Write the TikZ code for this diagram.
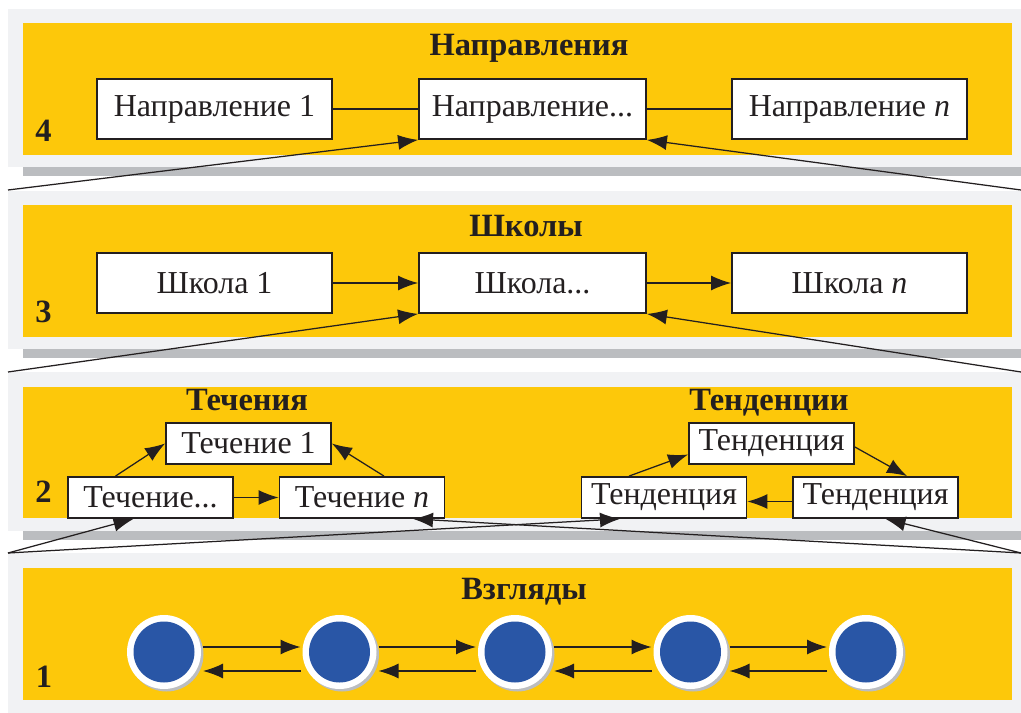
\documentclass[tikz,border=0pt]{standalone}
\usepackage{fontspec}
\setmainfont{Liberation Serif}
\usetikzlibrary{shapes,arrows.meta,shadows}

\newdimen\pxu \pxu=0.36pt
\definecolor{panelyellow}{RGB}{253,200,10}
\definecolor{panelgray}{RGB}{241,242,244}
\definecolor{bargray}{RGB}{187,189,192}
\definecolor{viewblue}{RGB}{41,86,166}
\definecolor{ink}{RGB}{35,31,32}

\tikzset{
  box/.style={rectangle, draw=ink, line width=0.65pt, fill=white, text=ink, inner sep=0pt,
    minimum width=235\pxu, minimum height=60\pxu, font=\fontsize{11.5}{13}\selectfont},
  smallbox/.style={box, minimum width=165\pxu, minimum height=41\pxu},
  title/.style={anchor=base, text=ink, inner sep=0pt, font=\fontsize{11.7}{13}\selectfont\bfseries},
  view/.style={circle, fill=white, minimum size=74\pxu, inner sep=0pt, outer sep=2\pxu,
    drop shadow={shadow xshift=2.5\pxu, shadow yshift=-2.5\pxu, fill=bargray, opacity=1},
    path picture={\fill[viewblue] (path picture bounding box.center) circle (30.5\pxu);}}
}

\begin{document}
\begin{tikzpicture}[x=\pxu, y=-\pxu, node distance=175.5\pxu, line width=0.45pt, draw=ink,
    >={Latex[length=7.2pt,width=5.4pt]}]
  \useasboundingbox (0,0) rectangle (1021,713);

  % Level panels
  \fill[bargray] (23,167) rectangle (1021,176);
  \fill[panelgray] (8,9) rectangle (1021,167);
  \fill[panelyellow] (23,23) rectangle (1012,155);
  \fill[bargray] (23,349) rectangle (1021,358);
  \fill[panelgray] (8,191) rectangle (1021,349);
  \fill[panelyellow] (23,205) rectangle (1012,337);
  \fill[bargray] (23,531) rectangle (1021,540);
  \fill[panelgray] (8,372) rectangle (1021,531);
  \fill[panelyellow] (23,387) rectangle (1012,518);
  \fill[panelgray] (8,553) rectangle (1021,713);
  \fill[panelyellow] (23,568) rectangle (1012,700);

  \coordinate (top3l) at (8,190);
  \coordinate (top3r) at (1021,190);
  \coordinate (top2l) at (8,372);
  \coordinate (top2r) at (1021,372);
  \coordinate (top1l) at (8,553);
  \coordinate (top1r) at (1021,553);

  % Level 4
  \node (dirtitle) [title] at (529,56) {Направления};
  \node (lev4) [title] at (43.5,142) {4};
  \node (dir2) [box, minimum width=227\pxu] at (532.5,109) {Направление...};
  \node (dir1) [box, left of=dir2, node distance=318\pxu] {Направление 1};
  \node (dirn) [box, right of=dir2, node distance=317\pxu] {Направление \textit{n}};

  % Level 3
  \node (schooltitle) [title] at (526,237) {Школы};
  \node (lev3) [title] at (43.5,323) {3};
  \node (school1) [box, below of=dir1, node distance=174\pxu] {Школа 1};
  \node (school2) [box, minimum width=227\pxu, below of=dir2, node distance=174\pxu] {Школа...};
  \node (schooln) [box, below of=dirn, node distance=174\pxu] {Школа \textit{n}};

  % Level 2
  \node (streamtitle) [title] at (247,411) {Течения};
  \node (trendtitle) [title] at (769,411) {Тенденции};
  \node (lev2) [title] at (43.5,503) {2};
  \node (stream1) [smallbox] at (248.5,443.5) {Течение 1};
  \node (stream2) [smallbox] at (150.5,497.5) {Течение...};
  \node (streamn) [smallbox, right of=stream2, node distance=211.5\pxu] {Течение \textit{n}};
  \node (trend1) [smallbox] at (771.5,443.5) {Тенденция};
  \node (trend2) [smallbox] at (664,497.5) {Тенденция};
  \node (trend3) [smallbox, right of=trend2, node distance=211.5\pxu] {Тенденция};

  % Level 1
  \node (viewtitle) [title] at (524,599) {Взгляды};
  \node (lev1) [title] at (44,687) {1};
  \node (view1) [view] at (164,652) {};
  \node (view2) [view, right of=view1] {};
  \node (view3) [view, right of=view2] {};
  \node (view4) [view, right of=view3] {};
  \node (view5) [view, right of=view4] {};

  \draw (dir1) -- (dir2);
  \draw (dir2) -- (dirn);
  \draw [->] (school1) -- (school2);
  \draw [->] (school2) -- (schooln);

  \draw [->] ([xshift=-35\pxu]stream2.north) -- (stream1.west);
  \draw [->] ([xshift=22\pxu]streamn.north) -- (stream1.east);
  \draw [->] (stream2) -- (streamn);
  \draw [->] ([xshift=-35\pxu]trend2.north) -- ([yshift=-11\pxu]trend1.west);
  \draw [->] ([yshift=-3.5\pxu]trend1.east) -- ([xshift=31.5\pxu]trend3.north);
  \draw [->] ([yshift=-4\pxu]trend3.west) -- ([yshift=-4\pxu]trend2.east);

  % Views go both ways
  \draw [->] ([yshift=5\pxu]view1.east) -- ([yshift=5\pxu]view2.west);
  \draw [->] ([yshift=-19\pxu]view2.west) -- ([yshift=-19\pxu]view1.east);
  \draw [->] ([yshift=5\pxu]view2.east) -- ([yshift=5\pxu]view3.west);
  \draw [->] ([yshift=-19\pxu]view3.west) -- ([yshift=-19\pxu]view2.east);
  \draw [->] ([yshift=5\pxu]view3.east) -- ([yshift=5\pxu]view4.west);
  \draw [->] ([yshift=-19\pxu]view4.west) -- ([yshift=-19\pxu]view3.east);
  \draw [->] ([yshift=5\pxu]view4.east) -- ([yshift=5\pxu]view5.west);
  \draw [->] ([yshift=-19\pxu]view5.west) -- ([yshift=-19\pxu]view4.east);

  % Links up from the level below
  \draw [->] (top3l) -- (dir2.south west);
  \draw [->] (top3r) -- (dir2.south east);
  \draw [->] (top2l) -- (school2.south west);
  \draw [->] (top2r) -- (school2.south east);
  \draw [->] (top1l) -- ([xshift=-17\pxu]stream2.south);
  \draw [->] (top1l) -- ([xshift=-44\pxu]trend2.south);
  \draw [->] (top1r) -- ([xshift=51\pxu]streamn.south);
  \draw [->] (top1r) -- ([xshift=10\pxu]trend3.south);
\end{tikzpicture}
\end{document}
